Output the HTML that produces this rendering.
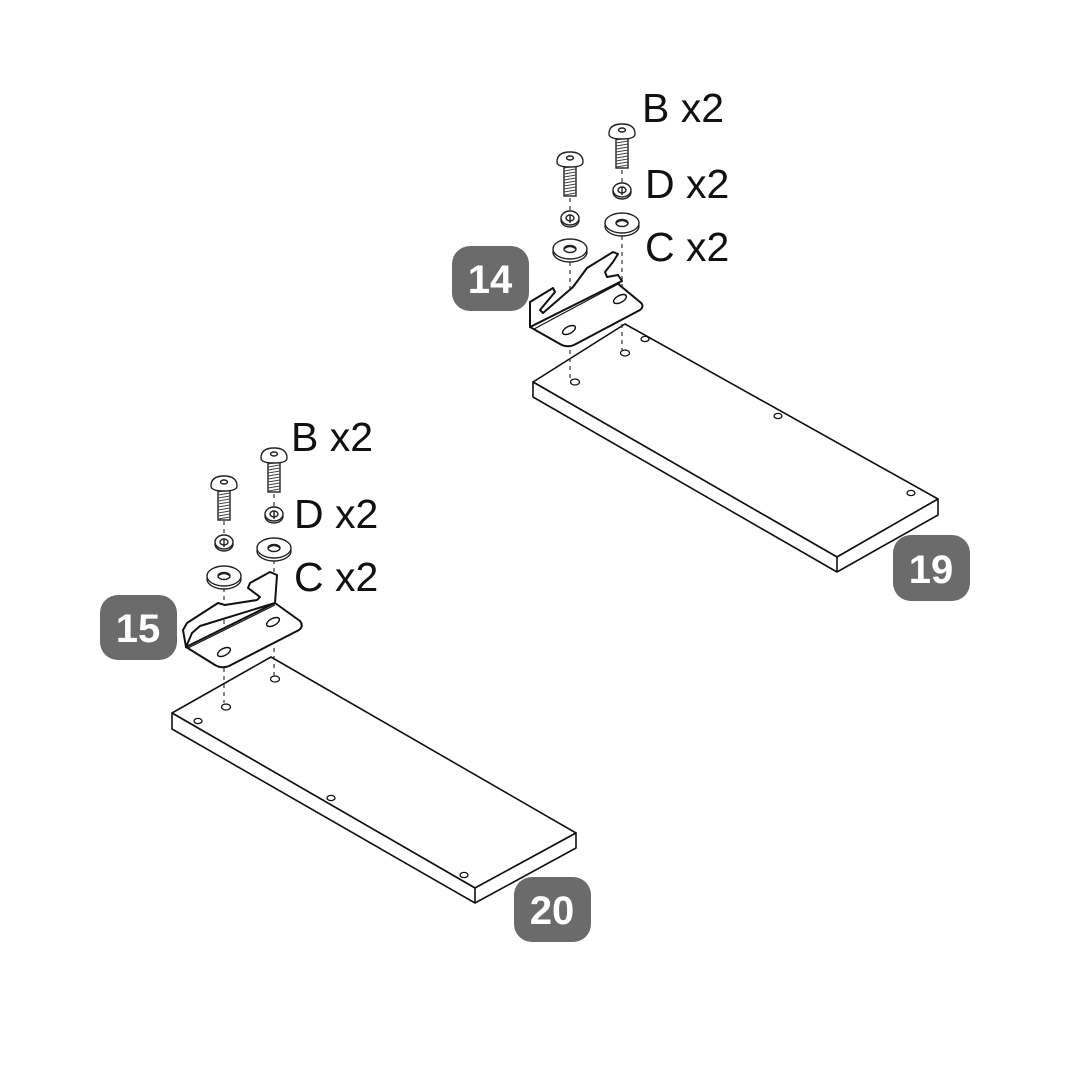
<!DOCTYPE html>
<html><head><meta charset="utf-8"><style>
html,body{margin:0;padding:0;background:#fff;}
svg{display:block;}
.lbl{font-family:"Liberation Sans",sans-serif;font-size:41px;fill:#111;}
.bdg{font-family:"Liberation Sans",sans-serif;font-size:40px;font-weight:bold;fill:#fff;}
</style></head><body>
<svg width="1080" height="1080" viewBox="0 0 1080 1080" xmlns="http://www.w3.org/2000/svg">
<defs>
  <g id="screw" fill="#fff" stroke="#222" stroke-width="1.4">
    <rect x="-6" y="4" width="12" height="32" fill="#fff" stroke="#222"/>
    <g stroke="#444" stroke-width="1">
      <path d="M-6 8 L6 6 M-6 11 L6 9 M-6 14 L6 12 M-6 17 L6 15 M-6 20 L6 18 M-6 23 L6 21 M-6 26 L6 24 M-6 29 L6 27 M-6 32 L6 30 M-6 35 L6 33"/>
    </g>
    <path d="M-13 2 Q-13 -8 0 -8 Q13 -8 13 2 Q13 7 0 7 Q-13 7 -13 2 Z"/>
    <ellipse cx="0" cy="-2" rx="3.5" ry="2"/>
  </g>
  <g id="lock" fill="#fff" stroke="#222" stroke-width="1.4">
    <ellipse cx="0" cy="2" rx="9" ry="7"/>
    <ellipse cx="0" cy="0" rx="9" ry="7"/>
    <ellipse cx="0" cy="0" rx="4" ry="3"/>
    <path d="M0 -3 L0 5"/>
  </g>
  <g id="washer" fill="#fff" stroke="#222" stroke-width="1.4">
    <ellipse cx="0" cy="3" rx="17" ry="10"/>
    <ellipse cx="0" cy="0" rx="17" ry="10"/>
    <ellipse cx="0" cy="0" rx="6" ry="3.5"/>
    <path d="M-6 0 Q0 -5 6 0" fill="none"/>
  </g>
</defs>

<g fill="#fff" stroke="#111" stroke-width="1.6" stroke-linejoin="round">
  <path d="M533 382 L837 557 L938 499 L625 324 Z"/>
  <path d="M533 382 L533 397 L837 572 L938 515 L938 499 L837 557 Z"/>
  <path d="M837 557 L837 572" />
</g>
<g fill="#fff" stroke="#111" stroke-width="1.3">
  <ellipse cx="575" cy="382" rx="4.5" ry="3"/>
  <ellipse cx="625" cy="353" rx="4.5" ry="3"/>
  <ellipse cx="645" cy="339" rx="4" ry="2.6"/>
  <ellipse cx="778" cy="416" rx="4" ry="2.6"/>
  <ellipse cx="911" cy="493" rx="4" ry="2.6"/>
</g>

<g fill="#fff" stroke="#111" stroke-width="1.6" stroke-linejoin="round">
  <path d="M172 713 L475 888 L576 833 L271 657 Z"/>
  <path d="M172 713 L172 729 L475 903 L576 848 L576 833 L475 888 Z"/>
  <path d="M475 888 L475 903"/>
</g>
<g fill="#fff" stroke="#111" stroke-width="1.3">
  <ellipse cx="226" cy="707" rx="4.5" ry="3"/>
  <ellipse cx="275" cy="679" rx="4.5" ry="3"/>
  <ellipse cx="198" cy="721" rx="4" ry="2.6"/>
  <ellipse cx="331" cy="798" rx="4" ry="2.6"/>
  <ellipse cx="464" cy="875" rx="4" ry="2.6"/>
</g>

<g stroke="#333" stroke-width="1.2" stroke-dasharray="4,4" fill="none">
  <path d="M570 198 L570 230 M570 262 L570 378"/>
  <path d="M622 170 L622 183 M622 236 L622 350"/>
  <path d="M224 521 L224 534 M224 588 L224 703"/>
  <path d="M274 494 L274 507 M274 560 L274 676"/>
</g>

<g fill="#fff" stroke="#111" stroke-width="2" stroke-linejoin="round">
  <path d="M530 327 L560 344 Q567 348 574 345 L640 310 Q645 306 640 302 L617 283 L530 327 Z"/>
  <path d="M530 327 L530 302 L553 288 L555 292 L540 310 L543 313 L573 287 L587 268 L613 252 L618 254 L613 262 L605 272 L607 277 L618 275 L622 281 L530 327 Z"/>
  <path d="M534 329 L620 283" fill="none" stroke-width="1.2"/>
</g>
<g fill="#fff" stroke="#111" stroke-width="1.4">
  <ellipse cx="569" cy="330" rx="7" ry="3.5" transform="rotate(-28 569 330)"/>
  <ellipse cx="620" cy="299" rx="7" ry="3.5" transform="rotate(-28 620 299)"/>
</g>
<use href="#screw" x="570" y="160"/>
<use href="#screw" x="622" y="132"/>
<use href="#lock" x="570" y="218"/>
<use href="#lock" x="622" y="190"/>
<use href="#washer" x="570" y="249"/>
<use href="#washer" x="622" y="223"/>

<g fill="#fff" stroke="#111" stroke-width="2" stroke-linejoin="round">
  <path d="M186 647 L215 665 Q222 669 229 666 L299 630 Q304 626 300 621 L275 603 L186 647 Z"/>
  <path d="M186 647 L183 630 L187 623 L218 603 L225 605 L257 600 L260 597 L248 588 L250 583 L270 572 L277 575 L275 603 L200 626 L192 633 L186 647 Z"/>
  <path d="M188 648 L275 605" fill="none" stroke-width="1.2"/>
</g>
<g fill="#fff" stroke="#111" stroke-width="1.4">
  <ellipse cx="224" cy="652" rx="7" ry="3.5" transform="rotate(-28 224 652)"/>
  <ellipse cx="273" cy="622" rx="7" ry="3.5" transform="rotate(-28 273 622)"/>
</g>
<use href="#screw" x="224" y="484"/>
<use href="#screw" x="274" y="456"/>
<use href="#lock" x="224" y="542"/>
<use href="#lock" x="274" y="514"/>
<use href="#washer" x="224" y="576"/>
<use href="#washer" x="274" y="548"/>

<text class="lbl" x="642" y="122">B x2</text>
<text class="lbl" x="645" y="198">D x2</text>
<text class="lbl" x="645" y="261">C x2</text>
<text class="lbl" x="291" y="451">B x2</text>
<text class="lbl" x="294" y="528">D x2</text>
<text class="lbl" x="294" y="591">C x2</text>

<g fill="#6b6b6b">
  <rect x="452" y="246" width="77" height="65" rx="18"/>
  <rect x="100" y="595" width="77" height="65" rx="18"/>
  <rect x="893" y="535" width="77" height="66" rx="18"/>
  <rect x="514" y="877" width="77" height="65" rx="18"/>
</g>
<text class="bdg" x="490" y="293" text-anchor="middle">14</text>
<text class="bdg" x="138" y="642" text-anchor="middle">15</text>
<text class="bdg" x="931" y="583" text-anchor="middle">19</text>
<text class="bdg" x="552" y="924" text-anchor="middle">20</text>
</svg>
</body></html>
